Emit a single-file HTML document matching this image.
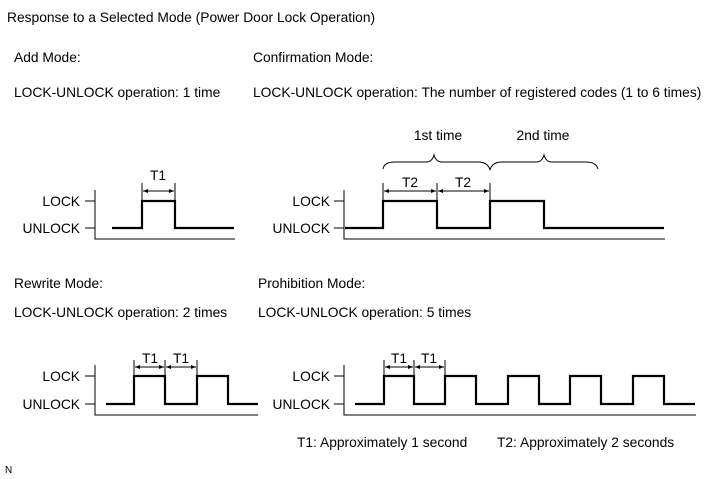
<!DOCTYPE html>
<html><head><meta charset="utf-8"><style>
html,body{margin:0;padding:0;background:#fff;}
svg{display:block;}
text{font-family:"Liberation Sans",Arial,sans-serif;font-size:13.8px;fill:#000;}
</style></head><body>
<svg width="711" height="479" viewBox="0 0 711 479" xmlns="http://www.w3.org/2000/svg">
<defs>
<marker id="a" viewBox="0 0 10 10" refX="10" refY="5" markerWidth="6" markerHeight="5" orient="auto-start-reverse"><path d="M0,1 L10,5 L0,9 z" fill="#000"/></marker>
</defs>
<text x="7" y="22">Response to a Selected Mode (Power Door Lock Operation)</text>
<text x="14" y="62">Add Mode:</text>
<text x="14" y="97">LOCK-UNLOCK operation: 1 time</text>
<text x="253" y="62">Confirmation Mode:</text>
<text x="253" y="97">LOCK-UNLOCK operation: The number of registered codes (1 to 6 times)</text>
<text x="14" y="288">Rewrite Mode:</text>
<text x="14" y="317">LOCK-UNLOCK operation: 2 times</text>
<text x="258" y="288">Prohibition Mode:</text>
<text x="258" y="317">LOCK-UNLOCK operation: 5 times</text>
<text x="297" y="447">T1: Approximately 1 second</text>
<text x="497" y="447">T2: Approximately 2 seconds</text>
<text x="5" y="473" style="font-size:10px">N</text>

<g fill="none" stroke="#000" stroke-width="1">
<path d="M95,190 V239 H235 M85,201 H95 M85,228 H95"/>
<path d="M344,190 V239 H665 M334,201 H344 M334,228 H344"/>
<path d="M95,365 V415 H258 M85,376 H95 M85,404 H95"/>
<path d="M344,365 V415 H696 M334,376 H344 M334,404 H344"/>
<path d="M142,183 V201 M175,183 V201"/>
<path d="M383,183 V201 M437,183 V201 M490,183 V201"/>
<path d="M134,360 V376 M165,360 V376 M197,360 V376"/>
<path d="M384,360 V376 M414,360 V376 M445,360 V376"/>
<path d="M383,169 Q384,162 395,162 H426 Q432,162 434,155 Q436,162 442,162 H478 Q488,162 490,170 Q492,162 502,162 H536 Q542,162 544,155 Q546,162 552,162 H586 Q596,162 598,169"/>
</g>
<g stroke="#000" stroke-width="1" marker-start="url(#a)" marker-end="url(#a)">
<line x1="143" y1="191" x2="174" y2="191"/>
<line x1="384" y1="191" x2="436" y2="191"/>
<line x1="438" y1="191" x2="489" y2="191"/>
<line x1="135" y1="367" x2="164" y2="367"/>
<line x1="166" y1="367" x2="196" y2="367"/>
<line x1="385" y1="367" x2="413" y2="367"/>
<line x1="415" y1="367" x2="444" y2="367"/>
</g>
<g fill="none" stroke="#000" stroke-width="2.2">
<path d="M112,228 H142 V201 H175 V228 H234"/>
<path d="M345,228 H383 V201 H437 V228 H490 V201 H544 V228 H664"/>
<path d="M106,404 H134 V376 H165 V404 H197 V376 H228 V404 H258"/>
<path d="M355,404 H384 V376 H414 V404 H445 V376 H476 V404 H508 V376 H539 V404 H570 V376 H601 V404 H633 V376 H664 V404 H695"/>
</g>
<text x="80" y="206" text-anchor="end">LOCK</text>
<text x="80" y="233" text-anchor="end">UNLOCK</text>
<text x="330" y="206" text-anchor="end">LOCK</text>
<text x="330" y="233" text-anchor="end">UNLOCK</text>
<text x="80" y="381" text-anchor="end">LOCK</text>
<text x="80" y="409" text-anchor="end">UNLOCK</text>
<text x="330" y="381" text-anchor="end">LOCK</text>
<text x="330" y="409" text-anchor="end">UNLOCK</text>
<text x="158" y="180" text-anchor="middle">T1</text>
<text x="410" y="187" text-anchor="middle">T2</text>
<text x="463" y="187" text-anchor="middle">T2</text>
<text x="150" y="363" text-anchor="middle">T1</text>
<text x="181" y="363" text-anchor="middle">T1</text>
<text x="399" y="363" text-anchor="middle">T1</text>
<text x="429" y="363" text-anchor="middle">T1</text>
<text x="438" y="140" text-anchor="middle">1st time</text>
<text x="543" y="140" text-anchor="middle">2nd time</text>
</svg>
</body></html>
